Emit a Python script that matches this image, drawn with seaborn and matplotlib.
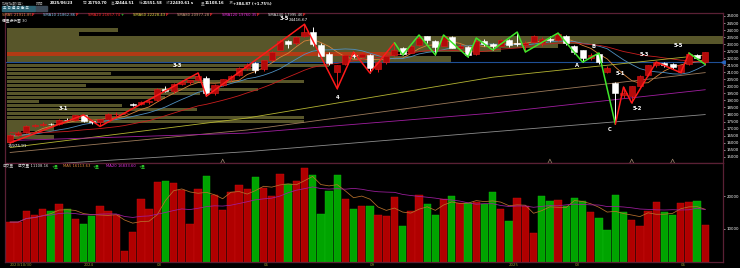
import numpy as np
import pandas as pd
import matplotlib
matplotlib.use("Agg")
import matplotlib.pyplot as plt
from matplotlib.patches import Rectangle
import seaborn as sns

sns.set_theme(style="dark")
plt.rcParams['font.family'] = ['DejaVu Sans', 'Noto Sans CJK TC']

# ---------------- data ----------------
week_start = "2023-10-30"
week_end = "2025-06-23"
closed_weeks = ["2025-01-27"]

opens = [16050, 16560, 16750, 17200, 17260, 17330, 17300, 17610, 17590, 17930,
         17520, 17450, 17690, 18000, 18080, 18740, 18720, 18900, 19000, 19800,
         19700, 20200, 20300, 20430, 20580, 19520, 20120, 20500, 20780, 21300,
         21650, 21250, 21870, 22600, 23250, 23060, 23560, 23880, 22950, 22300,
         21000, 21600, 22250, 22100, 22250, 21200, 21700, 22200, 22700, 22400,
         22950, 23550, 23250, 22900, 23500, 22700, 22800, 22300, 23250, 23000,
         22900, 23300, 23100, 22950, 23150, 23100, 23400, 23300, 23600, 22850,
         22550, 22000, 22300, 21000, 20240, 19400, 19300, 20000, 20800, 21500,
         21650, 21600, 21000, 21600, 22200, 21750.70]
highs = [16620, 16800, 17250, 17350, 17450, 17420, 17700, 17780, 17950, 17970,
         17600, 17700, 18100, 18150, 18110, 18800, 18930, 19050, 19880, 20000,
         20250, 20420, 20450, 20950, 20700, 20150, 20550, 20800, 21350, 21650,
         21700, 21900, 22500, 23400, 23300, 23600, 24416.67, 24200, 23100, 22450,
         21550, 22250, 22440, 22450, 22300, 21750, 22200, 23100, 22800, 23000,
         23650, 23600, 23300, 23650, 23550, 23000, 22900, 23436, 23350, 23100,
         23350, 23400, 23860, 23200, 23650, 23500, 23550, 23790, 23650, 22950,
         22600, 22350, 22370, 21450, 20300, 19954, 20050, 20800, 21550, 21730,
         21700, 21650, 21550, 22370, 22300, 22444.51]
lows = [15975.91, 16450, 16700, 17100, 17150, 17230, 17250, 17530, 17570, 17450,
        17300, 17150, 17650, 17900, 18050, 18600, 18650, 18750, 18950, 19600,
        19550, 20100, 20200, 20350, 19300, 19400, 20000, 20400, 20700, 21150,
        20950, 21100, 21800, 22550, 22750, 22950, 23500, 22850, 22050, 21550,
        19830, 21550, 22000, 22000, 20950, 21000, 21600, 22150, 22230, 22350,
        22900, 23100, 22230, 22850, 22700, 22550, 22085, 22250, 22900, 22584,
        22850, 22800, 22900, 22440, 23100, 22850, 23150, 23250, 22950, 22300,
        21720, 21900, 21600, 20950, 17306.97, 19200, 18817, 19950, 20750, 21400,
        21400, 21250, 20970, 21550, 21950, 21551.58]
closes = [16540, 16700, 17200, 17250, 17330, 17300, 17600, 17580, 17930, 17520,
          17480, 17680, 18000, 18060, 18096, 18700, 18890, 18950, 19800, 19680,
          20200, 20300, 20420, 20750, 19530, 20100, 20500, 20750, 21300, 21550,
          21180, 21860, 22450, 23250, 23030, 23500, 23880, 23000, 22150, 21640,
          21500, 22200, 22150, 22270, 21300, 21700, 22150, 22600, 22300, 22900,
          23450, 23300, 22800, 23550, 22750, 22850, 22260, 23200, 23000, 22900,
          23300, 22950, 23000, 23100, 23550, 23400, 23300, 23700, 23050, 22450,
          22050, 22250, 21700, 21300, 19530, 19510, 20000, 20750, 21500, 21700,
          21550, 21350, 21500, 22300, 22045.74, 22430.61]
volumes = [12100, 12100, 15350, 14340, 16160, 15350, 17470, 15960, 13130, 11400,
           13840, 16870, 15350, 14340, 3230, 9090, 19190, 15960, 24240, 24540,
           24040, 21920, 11410, 22220, 25960, 20400, 15860, 21210, 23430, 22020,
           25650, 22420, 19900, 26770, 23530, 24440, 28480, 26460, 14440, 21510,
           26260, 18990, 16160, 16970, 16870, 14340, 13840, 19700, 10900, 15350,
           20200, 17470, 14340, 18990, 20000, 17880, 17980, 18180, 17470, 21110,
           15960, 12520, 19490, 16970, 8890, 19900, 18380, 18690, 16870, 19290,
           18380, 15050, 13330, 9600, 20400, 15050, 12830, 10900, 15350, 18180,
           15150, 14140, 17880, 18180, 18480, 11108.16]
# weekly closes before the first shown week (for the short moving averages)
pre_closes = [17200, 16900, 16700, 17300, 17000, 17200, 16950, 16800, 16380, 16600,
              16730, 16650, 16800, 16400, 16350, 16500, 16680, 16500, 16000]

# long moving averages read at a few weeks
long_ma_weeks = [0, 29, 59, 85]
sma60_vals = [15650, 17750, 20650, 22228.43]
sma80_vals = [15300, 16900, 19240, 20977.28]
sma120_vals = [16150, 16680, 18100, 19760.35]
sma240_vals = [14300, 15360, 16770, 17995.46]

# wave (zigzag) lines: week index, price
red_wave_w = [0, 9, 11, 23, 24, 36, 40, 42, 44, 47]
red_wave_p = [15975.91, 17970, 17150, 20950, 19300, 24416.67, 19830, 22440, 20950, 23100]
green_wave_w = [47, 48, 50, 52, 53, 56, 57, 59, 62, 63, 67, 70, 72, 74]
green_wave_p = [23100, 22230, 23650, 22230, 23650, 22085, 23436, 22584, 23860, 22440,
                23790, 21720, 22370, 17306.97]
red_wave2_w = [74, 75, 76, 79, 82, 83]
red_wave2_p = [17306.97, 19954, 18817, 21730, 20970, 22370]
green_wave2_w = [83, 85]
green_wave2_p = [22370, 21551.58]

wave_labels = ["3-1", "3-3", "3-5", "4", "A", "B", "C", "5-1", "5-2", "5-3", "5-5"]
wave_label_w = [6.5, 20.5, 33.6, 40.1, 69.3, 71.3, 73.3, 74.6, 76.7, 77.6, 81.7]
wave_label_p = [18460, 21450, 24800, 19240, 21500, 22800, 16900, 20880, 18460, 22230, 22870]

# event markers along the bottom of the price panel (week index)
event_weeks = [26, 66, 76, 81]

# price-volume profile (30 price bins, top to bottom), relative length in % of width
profile_low = 15975.91
profile_high = 24416.67
profile_vol = [0, 15.5, 10, 100, 100, 77, 69, 54, 62, 62,
               45, 35, 14.5, 27, 41.5, 11, 35, 27, 22, 4.5,
               16, 26.5, 16.5, 41.5, 41.5, 6.5, 6.5, 2, 6.5, 0.5]

tick_dates = ["2023-10-30", "2024-01-01", "2024-03-04", "2024-06-03", "2024-09-02",
              "2024-12-30", "2025-03-03", "2025-06-02"]
tick_labels = ["2023/10/30", "2024", "03", "06", "09", "2025", "03", "06"]

# ---------------- prep ----------------
weeks = pd.date_range(week_start, week_end, freq="W-MON")
weeks = weeks[~weeks.isin(pd.to_datetime(closed_weeks))]
n = len(weeks)
idx = np.arange(n)
df = pd.DataFrame({"i": idx, "open": opens, "high": highs, "low": lows,
                   "close": closes, "vol": volumes})
allc = pd.Series(pre_closes + closes, dtype=float)
npre = len(pre_closes)
df["sma5"] = allc.rolling(5).mean().values[npre:]
df["sma10"] = allc.rolling(10).mean().values[npre:]
df["sma20"] = allc.rolling(20).mean().values[npre:]
prevc = np.r_[pre_closes[-1], closes[:-1]]
df["vup"] = df["close"].values >= prevc
df["vma5"] = df["vol"].rolling(5, min_periods=1).mean()
df["vma20"] = df["vol"].rolling(20, min_periods=1).mean()

W, H = 740, 268
def box(x0, y0, x1, y1):
    return [x0 / W, 1 - y1 / H, (x1 - x0) / W, (y1 - y0) / H]

fig = plt.figure(figsize=(W / 100, H / 100), dpi=100, facecolor="black")
axp = fig.add_axes(box(5, 13, 723, 163))
axv = fig.add_axes(box(5, 163, 723, 262))
XMIN, XMAX = -0.61, 87.16
BORDER = "#5a2035"
for ax in (axp, axv):
    ax.set_facecolor("black")
    ax.grid(False)
    for s in ax.spines.values():
        s.set_color(BORDER)
        s.set_linewidth(0.9)

PMIN, PMAX = 14552, 25213

# profile bars
edges = np.linspace(profile_high, profile_low, len(profile_vol) + 1)
binh = edges[0] - edges[1]
centers = (edges[:-1] + edges[1:]) / 2
full = (723 - 7) / 8.18
hi_bin = int((profile_high - closes[-1]) // binh)
pcolors = ["#b23a14" if k == hi_bin else "#58562a" for k in range(len(profile_vol))]
axp.barh(centers, np.array(profile_vol) / 100 * full, left=(7 - 10) / 8.18,
         height=binh * 0.84, color=pcolors, zorder=1, linewidth=0)

# current-price line
axp.axhline(opens[-1], color="#1f4f96", lw=0.8, zorder=2)
axp.plot([XMAX], [opens[-1]], marker="<", color="#2a66c0", ms=2.5, clip_on=False, zorder=6)

# moving averages
ma_style = [("sma5", "#d8823a"), ("sma10", "#4f8fc0"), ("sma20", "#c81e1e")]
for col, c in ma_style:
    sns.lineplot(data=df, x="i", y=col, color=c, lw=0.6, ax=axp, zorder=3)
for vals, c in [(sma60_vals, "#b4b432"), (sma80_vals, "#9c7a5a"),
                (sma120_vals, "#a01ea0"), (sma240_vals, "#8c8c8c")]:
    sns.lineplot(x=long_ma_weeks, y=vals, color=c, lw=0.6, ax=axp, zorder=3)

# candles
up = df["close"] >= df["open"]
ccol = np.where(up, "#b40a0a", "#ffffff")
ecol = np.where(up, "#e01818", "#ffffff")
axp.vlines(df["i"], df["low"], df["high"], colors=ecol, lw=0.7, zorder=4)
body = np.maximum((df["close"] - df["open"]).abs(), 25)
axp.bar(df["i"], body, bottom=np.minimum(df["open"], df["close"]), width=0.74,
        color=ccol, edgecolor=ecol, linewidth=0.4, zorder=5)

# waves
for w, p, c in [(red_wave_w, red_wave_p, "#ff1a1a"), (green_wave_w, green_wave_p, "#3ee62a"),
                (red_wave2_w, red_wave2_p, "#ff1a1a"), (green_wave2_w, green_wave2_p, "#3ee62a")]:
    sns.lineplot(x=w, y=p, sort=False, estimator=None, color=c, lw=1.1, ax=axp, zorder=7)
for t, w, p in zip(wave_labels, wave_label_w, wave_label_p):
    axp.text(w, p, t, color="white", fontsize=3.8, fontweight="bold",
             ha="center", va="center", zorder=8)
axp.text(35.2, 24416.67 + 330, "24416.67", color="white", fontsize=3.0,
         ha="center", va="center", zorder=8)
axp.text(0.9, 15975.91 - 230, "15975.91", color="white", fontsize=3.0,
         ha="center", va="center", zorder=8)

# event markers
axp.scatter(event_weeks, [14680] * len(event_weeks), marker="^", s=9, facecolors="none",
            edgecolors="#a08870", linewidths=0.5, zorder=6, clip_on=False)

axp.set_xlim(XMIN, XMAX)
axp.set_ylim(PMIN, PMAX)
axp.yaxis.tick_right()
yt = np.arange(15000, 25001, 500)
axp.set_yticks(yt)
axp.set_yticklabels([str(v) for v in yt])
axp.tick_params(axis="y", colors="white", labelsize=2.8, length=1.5, width=0.4, pad=1,
                labelcolor="white")
axp.tick_params(axis="x", bottom=False, labelbottom=False)
axp.set_xlabel("")
axp.set_ylabel("")

# volume
vcol = np.where(df["vup"], "#b00000", "#00a400")
vedge = np.where(df["vup"], "#c81010", "#10b810")
axv.bar(df["i"], df["vol"], width=0.9, color=vcol, edgecolor=vedge, linewidth=0.3, zorder=2)
sns.lineplot(data=df, x="i", y="vma5", color="#b8702c", lw=0.55, ax=axv, zorder=3)
sns.lineplot(data=df, x="i", y="vma20", color="#a01ea0", lw=0.55, ax=axv, zorder=3)
axv.set_xlim(XMIN, XMAX)
axv.set_ylim(0, 30000)
axv.yaxis.tick_right()
axv.set_yticks([10000, 20000])
axv.set_yticklabels(["10000", "20000"])
axv.tick_params(axis="y", colors="white", labelsize=2.8, length=1.5, width=0.4, pad=1,
                labelcolor="white")
tpos = [int(np.where(weeks == pd.Timestamp(d))[0][0]) for d in tick_dates]
axv.set_xticks(tpos)
axv.set_xticklabels(tick_labels, ha="left")
axv.tick_params(axis="x", colors="#8c8c2c", labelsize=2.8, length=0, pad=1,
                labelcolor="#9a9a30")
axv.set_xlabel("")
axv.set_ylabel("")

# ---------------- header texts ----------------
def ftext(x, y, s, c, size=3.0, weight="normal"):
    fig.text(x / W, 1 - y / H, s, color=c, fontsize=size, fontweight=weight,
             ha="left", va="center")

G = "#9a9a9a"
row1 = [(2, "加權指數(週)", G), (36, "時間", G), (50, "2025/06/23", "white"),
        (83, "開", G), (88, "21750.70", "white"), (111, "高", G), (115, "22444.51", "white"),
        (139, "低", G), (143, "21551.58", "white"), (166, "收", G), (170, "22430.61 s", "white"),
        (201, "量", G), (205, "11108.16", "white"), (229, "漲", G),
        (233, "+384.87 (+1.75%)", "white")]
for x, s, c in row1:
    ftext(x, 3.5, s, c, 2.7, "bold" if c == "white" else "normal")

fig.patches.append(Rectangle((2 / W, 1 - 10.5 / H), 33 / W, 4.5 / H, transform=fig.transFigure,
                             color="#2d6474", zorder=0))
fig.patches.append(Rectangle((36 / W, 1 - 10.5 / H), 11 / W, 4.5 / H, transform=fig.transFigure,
                             color="#3c4a58", zorder=0))
ftext(3, 8.2, "五 日 週 月 季 年", "#d0e8f0", 2.4)

ma_row = [(2, "SMA5 21911.85", "#e0884a", "F", "#ff3030"),
          (43, "SMA10 21862.86", "#7cc0e8", "F", "#ff3030"),
          (88, "SMA20 21657.74", "#ff2a2a", "+", "#30e030"),
          (133, "SMA60 22228.43", "#e0e040", "F", "#ff3030"),
          (177, "SMA80 20977.28", "#d0a880", "F", "#ff3030"),
          (222, "SMA120 19760.35", "#e030e0", "F", "#ff3030"),
          (268, "SMA240 17995.46", "#e0e0e0", "F", "#ff3030")]
for x, s, c, m, mc in ma_row:
    ftext(x, 15, s, c, 2.7)
    ftext(x + 2.2 * len(s) + 1.5, 15, m, mc, 2.7, "bold")
ftext(2, 20, "價量分析圖 30", "#e0e0e0", 2.7)

# volume header
ftext(3, 166, "成交量", "#c0c0c0", 2.7)
ftext(18, 166, "成交量 11108.16", "#e0e0e0", 2.7)
ftext(52, 166, "+量", "#30e030", 2.7)
ftext(63, 166, "MA5 16113.63", "#e08a3a", 2.7)
ftext(93, 166, "+量", "#30e030", 2.7)
ftext(106, 166, "MA20 16833.60", "#e030e0", 2.7)
ftext(139, 166, "+量", "#30e030", 2.7)

fig.savefig("out.png", dpi=100, facecolor="black")
